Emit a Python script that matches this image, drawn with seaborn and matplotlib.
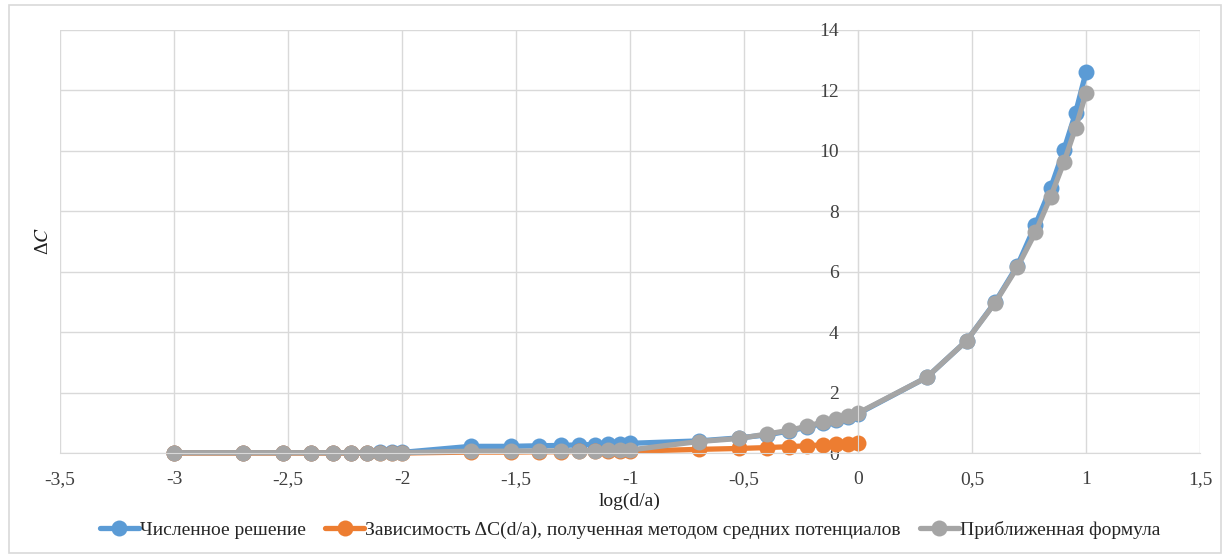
import matplotlib
matplotlib.use('Agg')
import matplotlib.pyplot as plt
import seaborn as sns
import pandas as pd
import numpy as np

sns.set_style('white')
plt.rcParams['font.family'] = ['Liberation Serif', 'DejaVu Serif']
plt.rcParams['mathtext.fontset'] = 'stix'

# log10(d/a) points
x_all = [-3.0, -2.699, -2.523, -2.398, -2.301, -2.222, -2.155, -2.097, -2.046, -2.0,
         -1.699, -1.523, -1.398, -1.301, -1.222, -1.155, -1.097, -1.046, -1.0,
         -0.699, -0.523, -0.398, -0.301, -0.222, -0.155, -0.097, -0.046, 0.0,
         0.301, 0.477, 0.602, 0.699, 0.778, 0.845, 0.903, 0.954, 1.0]

numeric = [0.01, 0.01, 0.01, 0.01, 0.01, 0.01, 0.01, 0.02, 0.02, 0.02,
           0.22, 0.22, 0.24, 0.25, 0.27, 0.28, 0.30, 0.31, 0.32,
           0.40, 0.50, 0.60, 0.73, 0.86, 0.98, 1.08, 1.18, 1.30,
           2.50, 3.72, 5.00, 6.20, 7.55, 8.77, 10.03, 11.25, 12.60]

mean_pot_x = x_all[:28]
mean_pot = [0.0, 0.0, 0.0, 0.0, 0.0, 0.0, 0.0, 0.0, 0.0, 0.0,
            0.03, 0.03, 0.04, 0.04, 0.05, 0.05, 0.05, 0.06, 0.06,
            0.12, 0.15, 0.18, 0.21, 0.24, 0.27, 0.29, 0.31, 0.34]

approx = [0.01, 0.01, 0.01, 0.01, 0.01, 0.01, 0.01, 0.01, 0.01, 0.01,
          0.06, 0.06, 0.07, 0.07, 0.08, 0.08, 0.09, 0.09, 0.10,
          0.38, 0.48, 0.63, 0.75, 0.89, 1.02, 1.13, 1.23, 1.32,
          2.50, 3.72, 4.98, 6.15, 7.30, 8.48, 9.62, 10.75, 11.90]

labels = ['Численное решение',
          'Зависимость ΔC(d/a), полученная методом средних потенциалов',
          'Приближенная формула']
colors = ['#5B9BD5', '#ED7D31', '#A5A5A5']

fig = plt.figure(figsize=(12.27, 5.57), dpi=100)
ax = fig.add_axes([60 / 1227, 1 - 453 / 557, 1140 / 1227, 423 / 557])

series = [(x_all, numeric), (mean_pot_x, mean_pot), (x_all, approx)]
for (xs, ys), lab, col in zip(series, labels, colors):
    df = pd.DataFrame({'x': xs, 'y': ys})
    sns.lineplot(data=df, x='x', y='y', ax=ax, color=col, linewidth=3.8,
                 marker='o', markersize=11.5, markeredgewidth=0, label=lab,
                 sort=False, clip_on=False)

ax.set_xlim(-3.5, 1.5)
ax.set_ylim(0, 14)
ax.set_xticks(np.arange(-3.5, 1.51, 0.5))
ax.set_yticks(np.arange(0, 14.1, 2))
ax.set_xticklabels([f'{v:g}'.replace('.', ',') for v in np.arange(-3.5, 1.51, 0.5)])
ax.grid(True, color='#d9d9d9', linewidth=1)
ax.set_axisbelow(True)

for s in ['top', 'right']:
    ax.spines[s].set_visible(False)
ax.spines['left'].set_position(('data', 0))
ax.spines['left'].set_color('#d9d9d9')
ax.spines['bottom'].set_color('#d9d9d9')
ax.tick_params(axis='both', length=0, labelsize=14, colors='#404040')
ax.tick_params(axis='x', pad=13)
ax.tick_params(axis='y', pad=14)

ax.set_xlabel('log(d/a)', fontsize=14, color='#202020', labelpad=3)
ax.set_ylabel('Δ$C$', fontsize=14, color='#202020')
ax.yaxis.set_label_coords(-0.007, 0.5)

ax.legend(loc='upper center', bbox_to_anchor=(0.5, -0.142), ncol=3, frameon=False,
          fontsize=14, handlelength=2.0, columnspacing=1.0, handletextpad=0.05,
          borderaxespad=0)

# outer frame
fig.patches.append(plt.Rectangle((9 / 1227, 4 / 557), 1212 / 1227, 548 / 557,
                                 transform=fig.transFigure, fill=False,
                                 edgecolor='#d9d9d9', linewidth=1.2))

fig.savefig('out.png', dpi=100)
